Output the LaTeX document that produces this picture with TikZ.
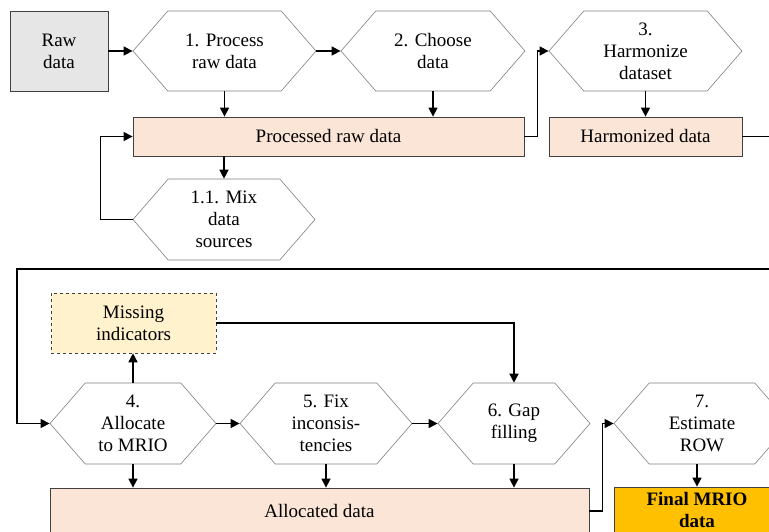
\documentclass[tikz,border=0pt]{standalone}
\usepackage{fontspec}
\setmainfont{Liberation Serif}
\usetikzlibrary{shapes.symbols,arrows.meta}
\definecolor{rawgray}{HTML}{E7E6E6}
\definecolor{datapeach}{HTML}{FBE5D6}
\definecolor{missyellow}{HTML}{FFF2CC}
\definecolor{finalgold}{HTML}{FFC000}
\begin{document}
\begin{tikzpicture}[x=1pt,y=-1pt,
	font=\fontsize{19pt}{22pt}\selectfont,
	hexstep/.style={signal, signal to=east and west, signal pointer angle=98, draw=black!50, line width=0.6pt, fill=white, inner sep=0pt, minimum height=80pt, align=center},
	databox/.style={rectangle, draw=black!75, line width=0.8pt, inner sep=0pt, minimum height=39pt, align=center},
	flow/.style={-{Triangle[length=9pt,width=9pt]}, line width=1.5pt},
	link/.style={line width=1.5pt}]
	\useasboundingbox (0,0) rectangle (769,532);
	\clip (0,0) rectangle (769,532);
	% first row
	\node[databox, fill=rawgray, minimum width=98pt, minimum height=80pt] (raw) at (59,51) {Raw\\data};
	\node[hexstep, minimum width=183pt] (process) at (224.5,51) {1. Process\\raw data};
	\node[hexstep, minimum width=184pt] (choose) at (433,51) {2. Choose\\data};
	\node[hexstep, minimum width=193pt] (harmonize) at (645.5,51) {3.\\Harmonize\\dataset};
	\node[databox, fill=datapeach, minimum width=391pt] (procdata) at (328.5,136.5) {Processed raw data};
	\node[databox, fill=datapeach, minimum width=193pt] (harmdata) at (645.5,136.5) {Harmonized data};
	\node[hexstep, minimum width=182pt, minimum height=81pt] (mix) at (224,219.5) {1.1. Mix\\data\\sources};
	% second row
	\node[databox, fill=missyellow, dashed, line width=0.6pt, minimum width=165pt, minimum height=60pt] (missing) at (133.5,323) {Missing\\indicators};
	\node[hexstep, minimum width=166pt, minimum height=81pt] (allocate) at (133,423.5) {4.\\Allocate\\to MRIO};
	\node[hexstep, minimum width=172pt, minimum height=81pt] (fix) at (326,423.5) {5. Fix\\inconsis-\\tencies};
	\node[hexstep, minimum width=152pt, minimum height=81pt] (gap) at (514,423.5) {6. Gap\\filling};
	\node[hexstep, minimum width=176pt, minimum height=81pt] (estimate) at (702,423.5) {7.\\Estimate\\ROW};
	\node[databox, fill=datapeach, minimum width=539pt, minimum height=46pt] (allocdata) at (319.5,511) {Allocated data};
	\node[databox, fill=finalgold, minimum width=166pt, minimum height=46pt, font=\fontsize{19pt}{22pt}\selectfont\bfseries] (final) at (697,510) {Final MRIO\\data};
	% connectors
	\draw[flow] (raw.east) -- (process.west);
	\draw[flow] (process.east) -- (choose.west);
	\draw[flow] (process.south) -- (process.south |- procdata.north);
	\draw[flow] (choose.south) -- (choose.south |- procdata.north);
	\draw[flow] (procdata.south -| mix.north) -- (mix.north);
	\draw[flow] (mix.west) -- ++(-32,0) |- (procdata.west);
	\draw[flow] (procdata.east) -- ++(13,0) |- (harmonize.west);
	\draw[flow] (harmonize.south) -- (harmdata.north);
	\draw[flow] (harmdata.east) -- ++(40,0) |- (17,269) |- (allocate.west);
	\draw[flow] (allocate.north) -- (allocate.north |- missing.south);
	\draw[flow] (missing.east) -| (gap.north);
	\draw[flow] (allocate.east) -- (fix.west);
	\draw[flow] (fix.east) -- (gap.west);
	\draw[flow] (allocate.south) -- (allocate.south |- allocdata.north);
	\draw[flow] (fix.south) -- (fix.south |- allocdata.north);
	\draw[flow] (gap.south) -- (gap.south |- allocdata.north);
	\draw[flow] (allocdata.east) -- ++(13,0) |- (estimate.west);
	\draw[flow] (estimate.south -| final.north) -- (final.north);
\end{tikzpicture}
\end{document}
